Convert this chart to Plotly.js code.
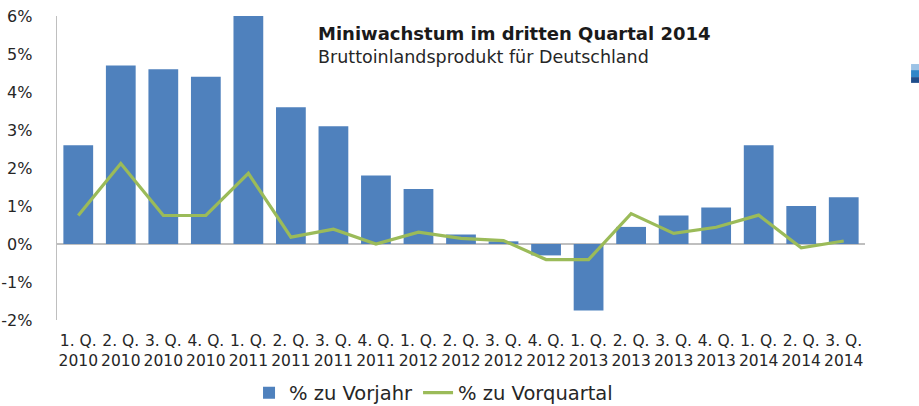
<!DOCTYPE html>
<html>
<head>
<meta charset="utf-8">
<script src="https://cdn.plot.ly/plotly-3.0.1.min.js"></script>
<style>html,body{margin:0;padding:0;background:#fff;}#chart{width:919px;height:406px;}</style>
</head>
<body>
<div id="chart"></div>
<script>
var categories = ["1. Q.<br>2010","2. Q.<br>2010","3. Q.<br>2010","4. Q.<br>2010",
  "1. Q.<br>2011","2. Q.<br>2011","3. Q.<br>2011","4. Q.<br>2011",
  "1. Q.<br>2012","2. Q.<br>2012","3. Q.<br>2012","4. Q.<br>2012",
  "1. Q.<br>2013","2. Q.<br>2013","3. Q.<br>2013","4. Q.<br>2013",
  "1. Q.<br>2014","2. Q.<br>2014","3. Q.<br>2014"];
var zuVorjahr = [2.6, 4.7, 4.6, 4.4, 6.0, 3.6, 3.1, 1.8, 1.45, 0.25, 0.07, -0.3, -1.75, 0.45, 0.75, 0.96, 2.6, 1.0, 1.23];
var zuVorquartal = [0.75, 2.12, 0.75, 0.75, 1.86, 0.18, 0.39, 0.0, 0.31, 0.15, 0.09, -0.41, -0.41, 0.8, 0.28, 0.44, 0.76, -0.1, 0.08];
var yTickVals = [-2, -1, 0, 1, 2, 3, 4, 5, 6];
var yTickText = ["-2%", "-1%", "0%", "1%", "2%", "3%", "4%", "5%", "6%"];
var seriesNames = ["% zu Vorjahr", "% zu Vorquartal"];
var titleText = "Miniwachstum im dritten Quartal 2014";
var subtitleText = "Bruttoinlandsprodukt für Deutschland";

var FONT = "DejaVu Sans, sans-serif";
var textColor = "#262626";

var data = [
  {type: "bar", x: categories, y: zuVorjahr, name: seriesNames[0],
   marker: {color: "#4f81bd"}, hoverinfo: "none"},
  {type: "scatter", mode: "lines", x: categories, y: zuVorquartal, name: seriesNames[1],
   line: {color: "#9bbb59", width: 3.2}, hoverinfo: "none"}
];

var layout = {
  width: 919, height: 406,
  margin: {l: 57, r: 54, t: 16, b: 86, autoexpand: false},
  paper_bgcolor: "#ffffff", plot_bgcolor: "#ffffff",
  font: {family: FONT, color: textColor},
  bargap: 0.3,
  showlegend: true,
  legend: {orientation: "h", x: 0.466, xanchor: "center", y: -0.24, yanchor: "middle",
    font: {family: FONT, size: 19.5, color: textColor}, traceorder: "normal", itemwidth: 30},
  xaxis: {type: "category", showgrid: false, showline: false, zeroline: false,
    ticks: "", tickfont: {family: FONT, size: 15.5, color: textColor}, ticklabelstandoff: 9,
    tickangle: 0, fixedrange: true, automargin: false},
  yaxis: {range: [-2, 6], tickvals: yTickVals, ticktext: yTickText, showgrid: false,
    showline: true, linecolor: "#bfbfbf", linewidth: 1.3,
    zeroline: true, zerolinecolor: "#bfbfbf", zerolinewidth: 1.3,
    ticks: "", ticklabelstandoff: 20, tickfont: {family: FONT, size: 16, color: textColor}, fixedrange: true, automargin: false},
  annotations: [
    {text: "<b>" + titleText + "</b>", xref: "paper", yref: "paper", x: 0.3205, y: 0.941,
     xanchor: "left", yanchor: "middle", showarrow: false, font: {family: FONT, size: 18, color: "#1a1a1a"}},
    {text: subtitleText, xref: "paper", yref: "paper", x: 0.3205, y: 0.865,
     xanchor: "left", yanchor: "middle", showarrow: false, font: {family: FONT, size: 17.5, color: textColor}}
  ],
  shapes: [
    {type: "rect", xref: "paper", yref: "paper", x0: 1.057, x1: 1.07, y0: 0.822, y1: 0.842, fillcolor: "#9cc3e6", line: {width: 0}},
    {type: "rect", xref: "paper", yref: "paper", x0: 1.057, x1: 1.07, y0: 0.799, y1: 0.822, fillcolor: "#2f86c9", line: {width: 0}},
    {type: "rect", xref: "paper", yref: "paper", x0: 1.057, x1: 1.07, y0: 0.780, y1: 0.799, fillcolor: "#1f4e8c", line: {width: 0}}
  ]
};

Plotly.newPlot("chart", data, layout, {displayModeBar: false, staticPlot: true});
</script>
</body>
</html>
